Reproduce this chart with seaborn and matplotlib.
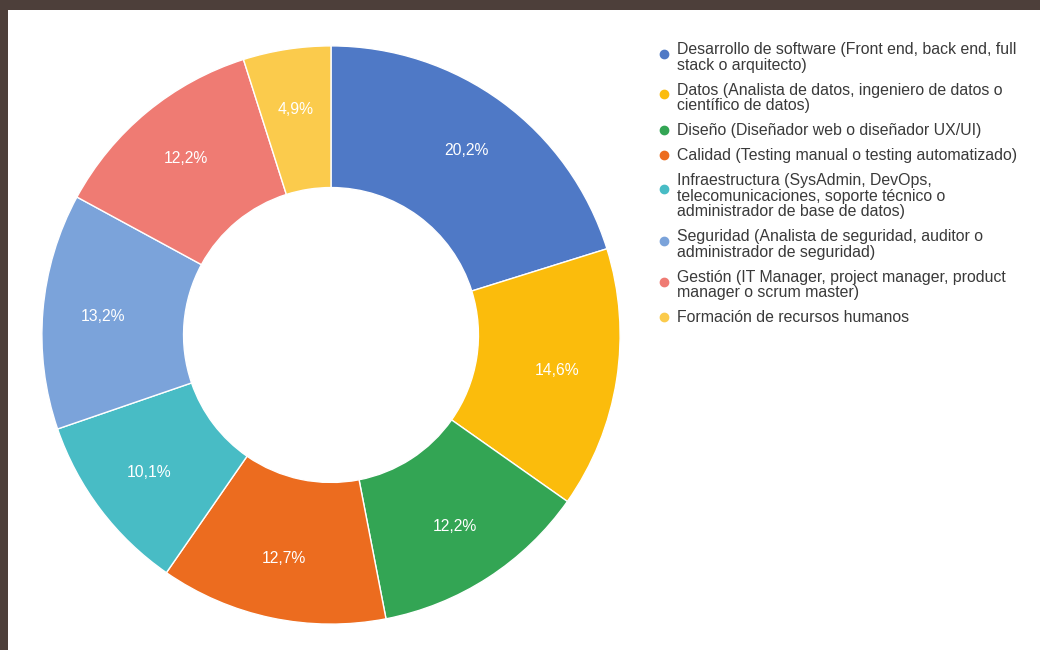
import matplotlib
matplotlib.use("Agg")
import matplotlib.pyplot as plt
from matplotlib.lines import Line2D
from matplotlib.patches import Rectangle
from matplotlib.legend_handler import HandlerLine2D
import seaborn as sns

categories = [
    "Desarrollo de software (Front end, back end, full\nstack o arquitecto)",
    "Datos (Analista de datos, ingeniero de datos o\ncientífico de datos)",
    "Diseño (Diseñador web o diseñador UX/UI)",
    "Calidad (Testing manual o testing automatizado)",
    "Infraestructura (SysAdmin, DevOps,\ntelecomunicaciones, soporte técnico o\nadministrador de base de datos)",
    "Seguridad (Analista de seguridad, auditor o\nadministrador de seguridad)",
    "Gestión (IT Manager, project manager, product\nmanager o scrum master)",
    "Formación de recursos humanos",
]
values = [20.2, 14.6, 12.2, 12.7, 10.1, 13.2, 12.2, 4.9]
colors = ["#4f79c6", "#fbbc0c", "#33a554", "#ec6c1f", "#48bcc5", "#7ba3da", "#ef7b73", "#fbcb4c"]

sns.set_theme(style="white")
plt.rcParams['font.family'] = ['Liberation Sans', 'DejaVu Sans']

fig = plt.figure(figsize=(10.4, 6.5), dpi=100)
fig.patch.set_facecolor("white")

# frame
fig.patches.append(Rectangle((0, 1 - 10/650), 1, 10/650, transform=fig.transFigure,
                             facecolor="#4d3f3a", edgecolor="none", zorder=10))
fig.patches.append(Rectangle((0, 0), 8/1040, 1, transform=fig.transFigure,
                             facecolor="#4d3f3a", edgecolor="none", zorder=10))

cx, cy, r = 331, 335, 292
ax = fig.add_axes([(cx - r)/1040, (650 - cy - r)/650, 2*r/1040, 2*r/650])

pal = sns.color_palette(colors)
wedges, texts, autotexts = ax.pie(
    values, colors=pal, startangle=90, counterclock=False, radius=1,
    wedgeprops=dict(width=0.49, edgecolor="white", linewidth=1.0),
    autopct=lambda p: f"{p:.1f}".replace(".", ",") + "%", pctdistance=0.79,
    textprops=dict(color="white", fontsize=11.3),
)
ax.set_xlim(-1.01, 1.01)
ax.set_ylim(-1.01, 1.01)
ax.set_aspect("equal")
ax.axis("off")


class FirstLineHandler(HandlerLine2D):
    def __init__(self, shift, **kw):
        super().__init__(**kw)
        self.shift = shift

    def create_artists(self, legend, orig_handle, xdescent, ydescent, width,
                       height, fontsize, trans):
        return super().create_artists(legend, orig_handle, xdescent,
                                      ydescent - self.shift, width, height,
                                      fontsize, trans)


line_pt = 16 * 72 / 100
handles = [Line2D([], [], marker="o", linestyle="none", markersize=6,
                  markerfacecolor=c, markeredgecolor=c) for c in colors]
hmap = {h: FirstLineHandler((lab.count("\n")) * line_pt / 2)
        for h, lab in zip(handles, categories)}
leg = fig.legend(handles, categories, loc="upper left",
                 bbox_to_anchor=(660/1040, 1 - 42/650), frameon=False,
                 fontsize=11.4, handlelength=0.5, handletextpad=0.6,
                 labelspacing=0.63, borderpad=0, borderaxespad=0,
                 handler_map=hmap)
for t in leg.get_texts():
    t.set_color("#3a3a3a")
    t.set_linespacing(1.05)

fig.savefig("out.png", dpi=100, facecolor="white")
